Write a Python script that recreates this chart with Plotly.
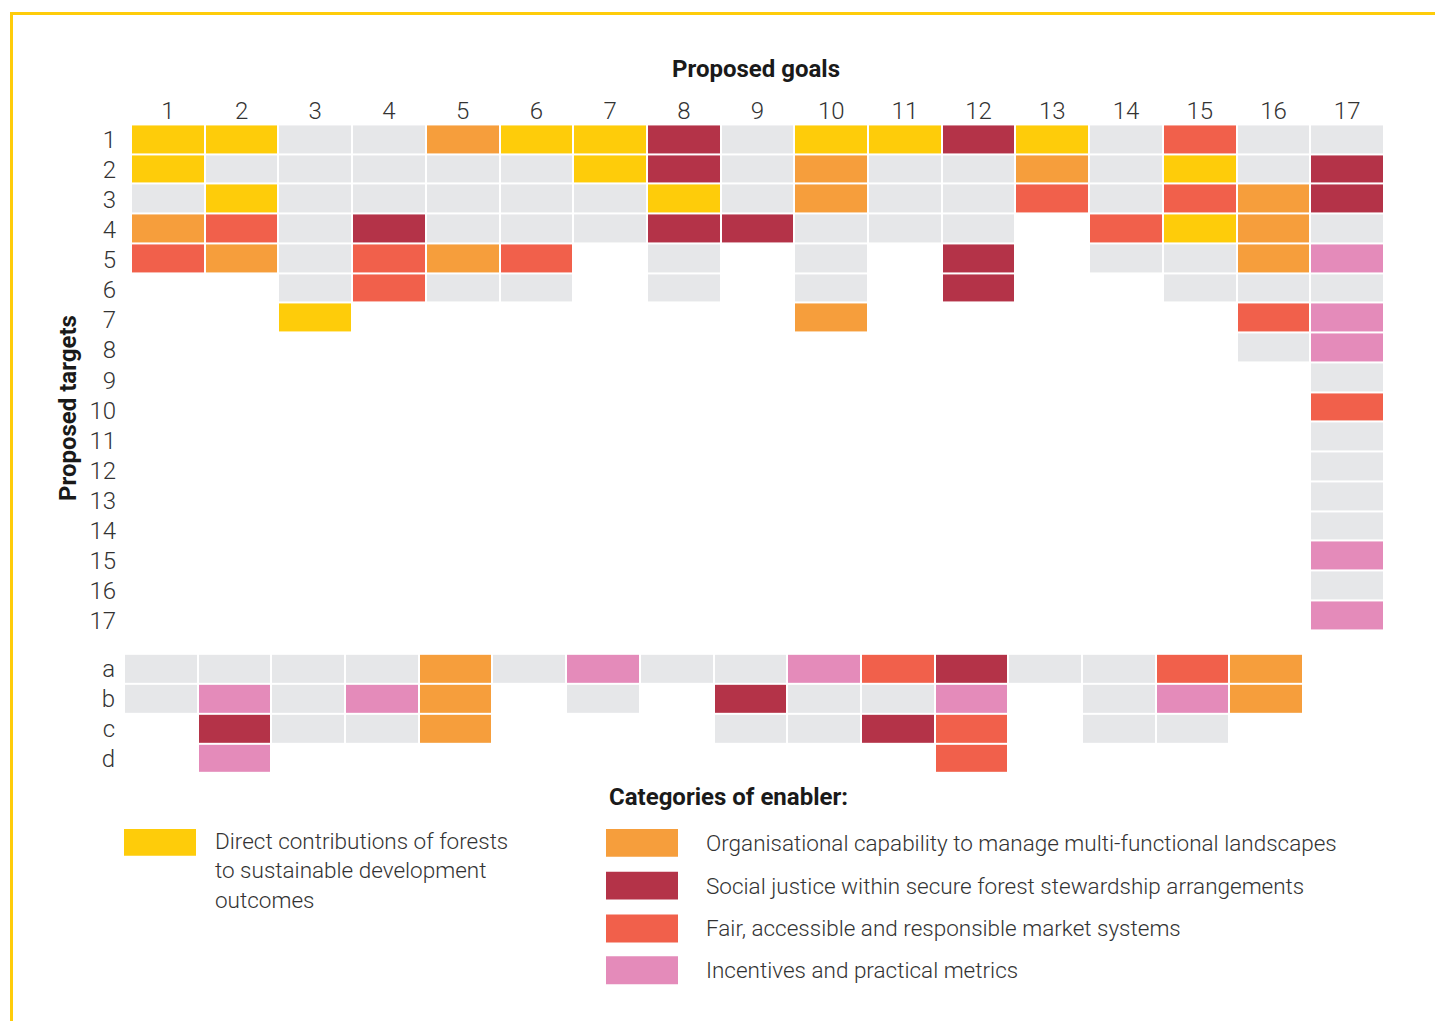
import plotly.graph_objects as go

# ---------------- data ----------------
goals = [str(i) for i in range(1, 18)]
targets = [str(i) for i in range(1, 18)]
means_targets = ["a", "b", "c", "d"]

# category codes: G = target without enabler link (grey), Y = direct contribution,
# O = organisational capability, D = social justice, R = market systems, P = incentives, - = no target
top_rows = [
    "Y Y G G O Y Y D G Y Y D Y G R G G",
    "Y G G G G G Y D G O G G O G Y G D",
    "G Y G G G G G Y G O G G R G R O D",
    "O R G D G G G D D G G G - R Y O G",
    "R O G R O R - G - G - D - G G O P",
    "- - G R G G - G - G - D - - G G G",
    "- - Y - - - - - - O - - - - - R P",
    "- - - - - - - - - - - - - - - G P",
    "- - - - - - - - - - - - - - - - G",
    "- - - - - - - - - - - - - - - - R",
    "- - - - - - - - - - - - - - - - G",
    "- - - - - - - - - - - - - - - - G",
    "- - - - - - - - - - - - - - - - G",
    "- - - - - - - - - - - - - - - - G",
    "- - - - - - - - - - - - - - - - P",
    "- - - - - - - - - - - - - - - - G",
    "- - - - - - - - - - - - - - - - P",
]
bottom_rows = [
    "G G G G O G P G G P R D G G R O",
    "G P G P O - G - D G G P - G P O",
    "- D G G O - - - G G D R - G G -",
    "- P - - - - - - - - - R - - - -",
]

category_codes = ["G", "Y", "O", "D", "R", "P"]
category_names = [
    "No enabler",
    "Direct contributions of forests to sustainable development outcomes",
    "Organisational capability to manage multi-functional landscapes",
    "Social justice within secure forest stewardship arrangements",
    "Fair, accessible and responsible market systems",
    "Incentives and practical metrics",
]
category_colors = ["#E6E7E9", "#FECC0A", "#F69E3C", "#B43348", "#F1604B", "#E48BBA"]

# ---------------- helpers ----------------
W, H = 1435, 1026


def fx(px):
    return px / W


def fy(py):
    return 1 - py / H


def to_z(rows):
    z = []
    for r in rows:
        z.append([None if c == "-" else category_codes.index(c) for c in r.split()])
    return z


n = len(category_codes)
colorscale = []
for i, c in enumerate(category_colors):
    colorscale.append([i / n, c])
    colorscale.append([(i + 1) / n, c])

z_top = to_z(top_rows)
z_bot = to_z(bottom_rows)

text_top = [[None if v is None else category_names[v] for v in row] for row in z_top]
text_bot = [[None if v is None else category_names[v] for v in row] for row in z_bot]

fig = go.Figure()
fig.add_trace(go.Heatmap(
    x=list(range(1, len(goals) + 1)), y=list(range(1, len(targets) + 1)), z=z_top,
    zmin=-0.5, zmax=n - 0.5, colorscale=colorscale, showscale=False,
    xgap=2, ygap=2, text=text_top, hovertemplate="Goal %{x}, target %{y}<br>%{text}<extra></extra>",
    xaxis="x", yaxis="y",
))
fig.add_trace(go.Heatmap(
    x=list(range(1, len(z_bot[0]) + 1)), y=list(range(1, len(means_targets) + 1)), z=z_bot,
    zmin=-0.5, zmax=n - 0.5, colorscale=colorscale, showscale=False,
    xgap=2, ygap=2, text=text_bot, hovertemplate="Goal %{x}<br>%{text}<extra></extra>",
    xaxis="x2", yaxis="y2",
))
# invisible carrier for the target-number label axis (labels are set slightly wider apart than rows)
fig.add_trace(go.Scatter(x=[1], y=[1], mode="markers", marker=dict(opacity=0), hoverinfo="skip",
                         xaxis="x", yaxis="y3", showlegend=False))

tick_font = dict(family="Roboto", size=24, color="#333333", weight=300)
bold_font = dict(family="Roboto", size=24, color="#1a1a1a", weight=700)
leg_font = dict(family="Roboto", size=22.5, color="#333333", weight=300)

common = dict(showgrid=False, zeroline=False, showline=False, ticks="", fixedrange=True)

fig.update_layout(
    width=W, height=H,
    margin=dict(l=0, r=0, t=0, b=0),
    paper_bgcolor="white", plot_bgcolor="rgba(0,0,0,0)",
    showlegend=False,
    xaxis=dict(domain=[fx(131), fx(1384)], range=[0.5, 17.5], side="top", anchor="y",
               tickmode="array", tickvals=list(range(1, 18)), ticktext=goals,
               tickfont=tick_font, ticklabelstandoff=0, **common),
    yaxis=dict(domain=[fy(633), fy(125)], range=[17.5, 0.5], anchor="x",
               showticklabels=False, **common),
    yaxis3=dict(overlaying="y", range=[17.297, 0.504], anchor="x",
                tickmode="array", tickvals=list(range(1, 18)), ticktext=targets,
                tickfont=tick_font, ticklabelstandoff=14, **common),
    xaxis2=dict(domain=[fx(124), fx(1303)], range=[0.5, 16.5], anchor="y2",
                showticklabels=False, **common),
    yaxis2=dict(domain=[fy(777), fy(657)], range=[4.5, 0.5], anchor="x2",
                tickmode="array", tickvals=[1, 2, 3, 4], ticktext=means_targets,
                tickfont=tick_font, ticklabelstandoff=8, **common),
)

annotations = [
    dict(text="Proposed goals", x=fx(756), y=fy(69), xanchor="center", yanchor="middle", font=bold_font),
    dict(text="Proposed targets", x=fx(68), y=fy(410), xanchor="center", yanchor="middle",
         textangle=-90, font=bold_font),
    dict(text="Categories of enabler:", x=fx(607), y=fy(801), xanchor="left", yanchor="middle", font=bold_font),
    dict(text="Direct contributions of forests<br>to sustainable development<br>outcomes",
         x=fx(213), y=fy(830), xanchor="left", yanchor="top", align="left", font=leg_font),
]
shapes = [
    dict(type="rect", xref="paper", yref="paper", x0=fx(124), x1=fx(196), y0=fy(860), y1=fy(833),
         fillcolor=category_colors[1], line_width=0),
    # frame
    dict(type="line", xref="paper", yref="paper", x0=fx(10), x1=1, y0=fy(13.5), y1=fy(13.5),
         line=dict(color="#FECC0A", width=3)),
    dict(type="line", xref="paper", yref="paper", x0=fx(11.5), x1=fx(11.5), y0=fy(12), y1=0,
         line=dict(color="#FECC0A", width=3)),
]
legend_y = [847, 890, 933, 975]
for k, yc in zip(range(2, 6), legend_y):
    shapes.append(dict(type="rect", xref="paper", yref="paper", x0=fx(606), x1=fx(678),
                       y0=fy(yc + 14), y1=fy(yc - 14), fillcolor=category_colors[k], line_width=0))
    annotations.append(dict(text=category_names[k], x=fx(704), y=fy(yc), xanchor="left",
                            yanchor="middle", font=leg_font))

for a in annotations:
    a.update(xref="paper", yref="paper", showarrow=False)

fig.update_layout(annotations=annotations, shapes=shapes)

post = (
    "var gd=document.getElementById('{plot_id}');"
    "document.documentElement.style.margin='0';document.body.style.margin='0';"
    "document.documentElement.style.overflow='hidden';document.body.style.overflow='hidden';"
    "document.documentElement.style.height='1026px';document.body.style.height='1026px';"
    "gd.style.position='fixed';gd.style.top='0px';gd.style.left='0px';"
)
fig.write_html("out.html", config={"displayModeBar": False}, post_script=post)
